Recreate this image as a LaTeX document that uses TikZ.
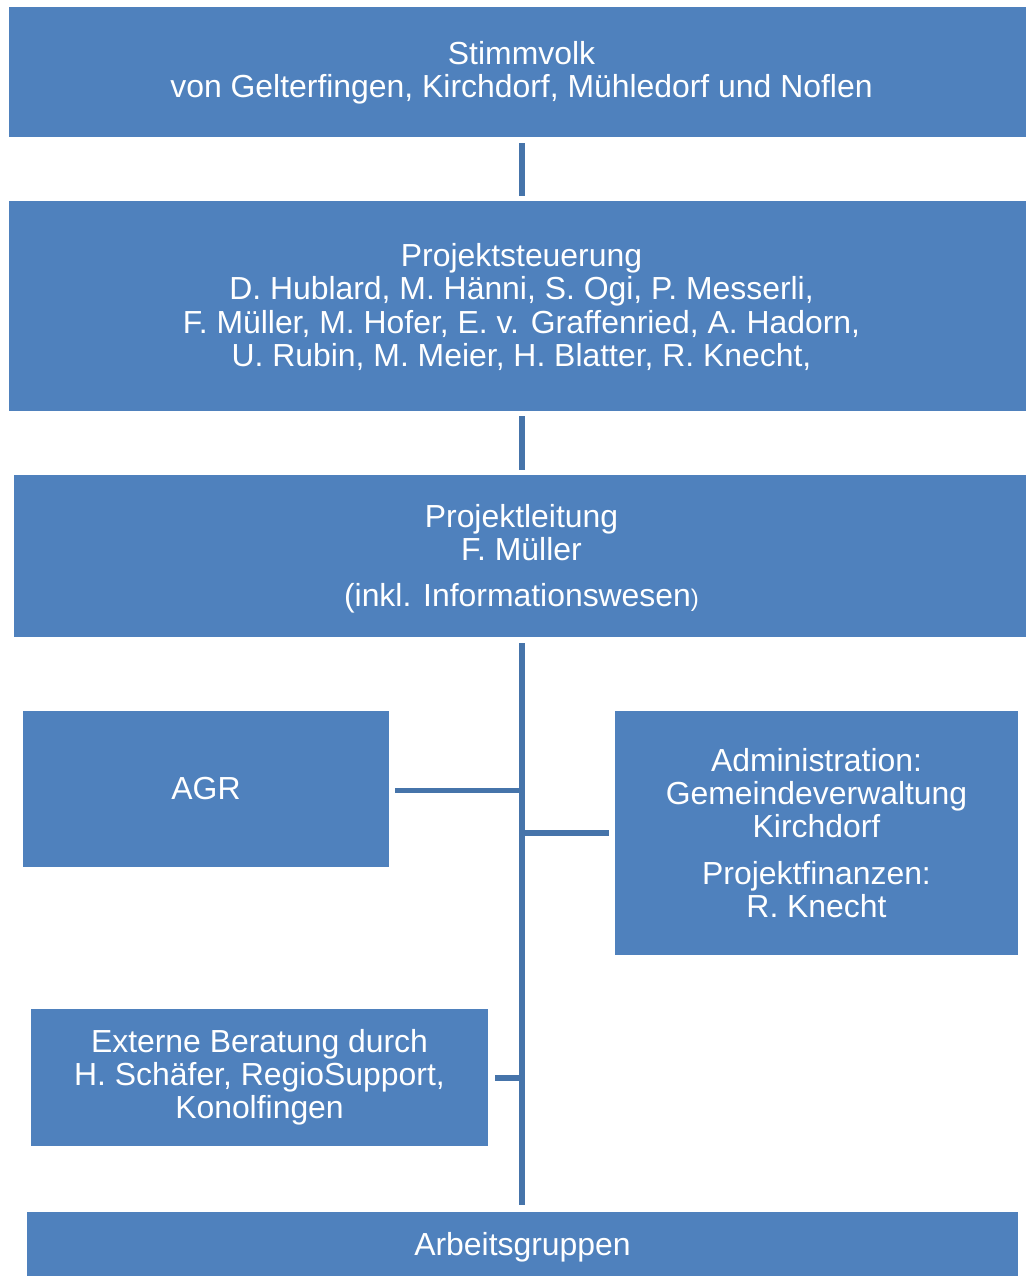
\documentclass[tikz,border=0pt]{standalone}
\usepackage{fontspec}
\setmainfont{Liberation Sans}
\definecolor{boxblue}{RGB}{79,129,189}
\definecolor{lineblue}{RGB}{70,116,170}
\begin{document}
\begin{tikzpicture}[x=1pt,y=-1pt,
  orgbox/.style={fill=boxblue, draw=none, text=white, align=center, inner sep=0pt,
    font=\fontsize{31.9}{33.2}\selectfont},
  boxtext/.style={text=white, align=center, inner sep=0pt,
    font=\fontsize{31.9}{33.2}\selectfont},
  conn/.style={draw=lineblue, line width=5.5pt}]
\useasboundingbox (0,0) rectangle (1026,1276);
\node[orgbox, minimum width=1017, minimum height=130,
  label={[boxtext, xshift=4pt, yshift=-1pt]center:{Stimmvolk\\von Gelterfingen, Kirchdorf, Mühledorf und Noflen}}] (b1) at (517.5,72) {};
\node[orgbox, minimum width=1017, minimum height=210,
  label={[boxtext, xshift=4pt, yshift=-1pt]center:{Projektsteuerung\\D. Hublard, M. Hänni, S. Ogi, P. Messerli,\\F. Müller, M. Hofer, E. v. Graffenried, A. Hadorn,\\U. Rubin, M. Meier, H. Blatter, R. Knecht,}}] (b2) at (517.5,306) {};
\node[orgbox, minimum width=1012, minimum height=162,
  label={[boxtext, xshift=1.5pt, yshift=-3pt]center:{Projektleitung\\F. Müller\\[13pt](inkl. Informationswesen{\fontsize{24}{28}\selectfont)}}}] (b3) at (520,556) {};
\node[orgbox, minimum width=366, minimum height=156] (agr) at (206,789) {AGR};
\node[orgbox, minimum width=403, minimum height=244] (adm) at (816.5,833)
  {Administration:\\Gemeindeverwaltung\\Kirchdorf\\[13pt]Projektfinanzen:\\R. Knecht};
\node[orgbox, minimum width=457, minimum height=137] (ext) at (259.5,1077.5)
  {Externe Beratung durch\\H. Schäfer, RegioSupport,\\Konolfingen};
\node[orgbox, minimum width=991, minimum height=70] (ag) at (522.5,1247) {Arbeitsgruppen};
\coordinate (trunk) at (522,0);
\draw[conn] ([yshift=-6]b1.south -| trunk) -- ([yshift=5]b2.north -| trunk);
\draw[conn] ([yshift=-5]b2.south -| trunk) -- ([yshift=5]b3.north -| trunk);
\draw[conn] ([yshift=-6]b3.south -| trunk) -- ([yshift=7]ag.north -| trunk);
\draw[conn] ([xshift=6,yshift=-1.5]agr.east) -- ([yshift=-1.5]agr.east -| trunk);
\draw[conn] ([xshift=-6]adm.west) -- (adm.west -| trunk);
\draw[conn] ([xshift=7,yshift=-0.5]ext.east) -- ([yshift=-0.5]ext.east -| trunk);
\end{tikzpicture}
\end{document}
